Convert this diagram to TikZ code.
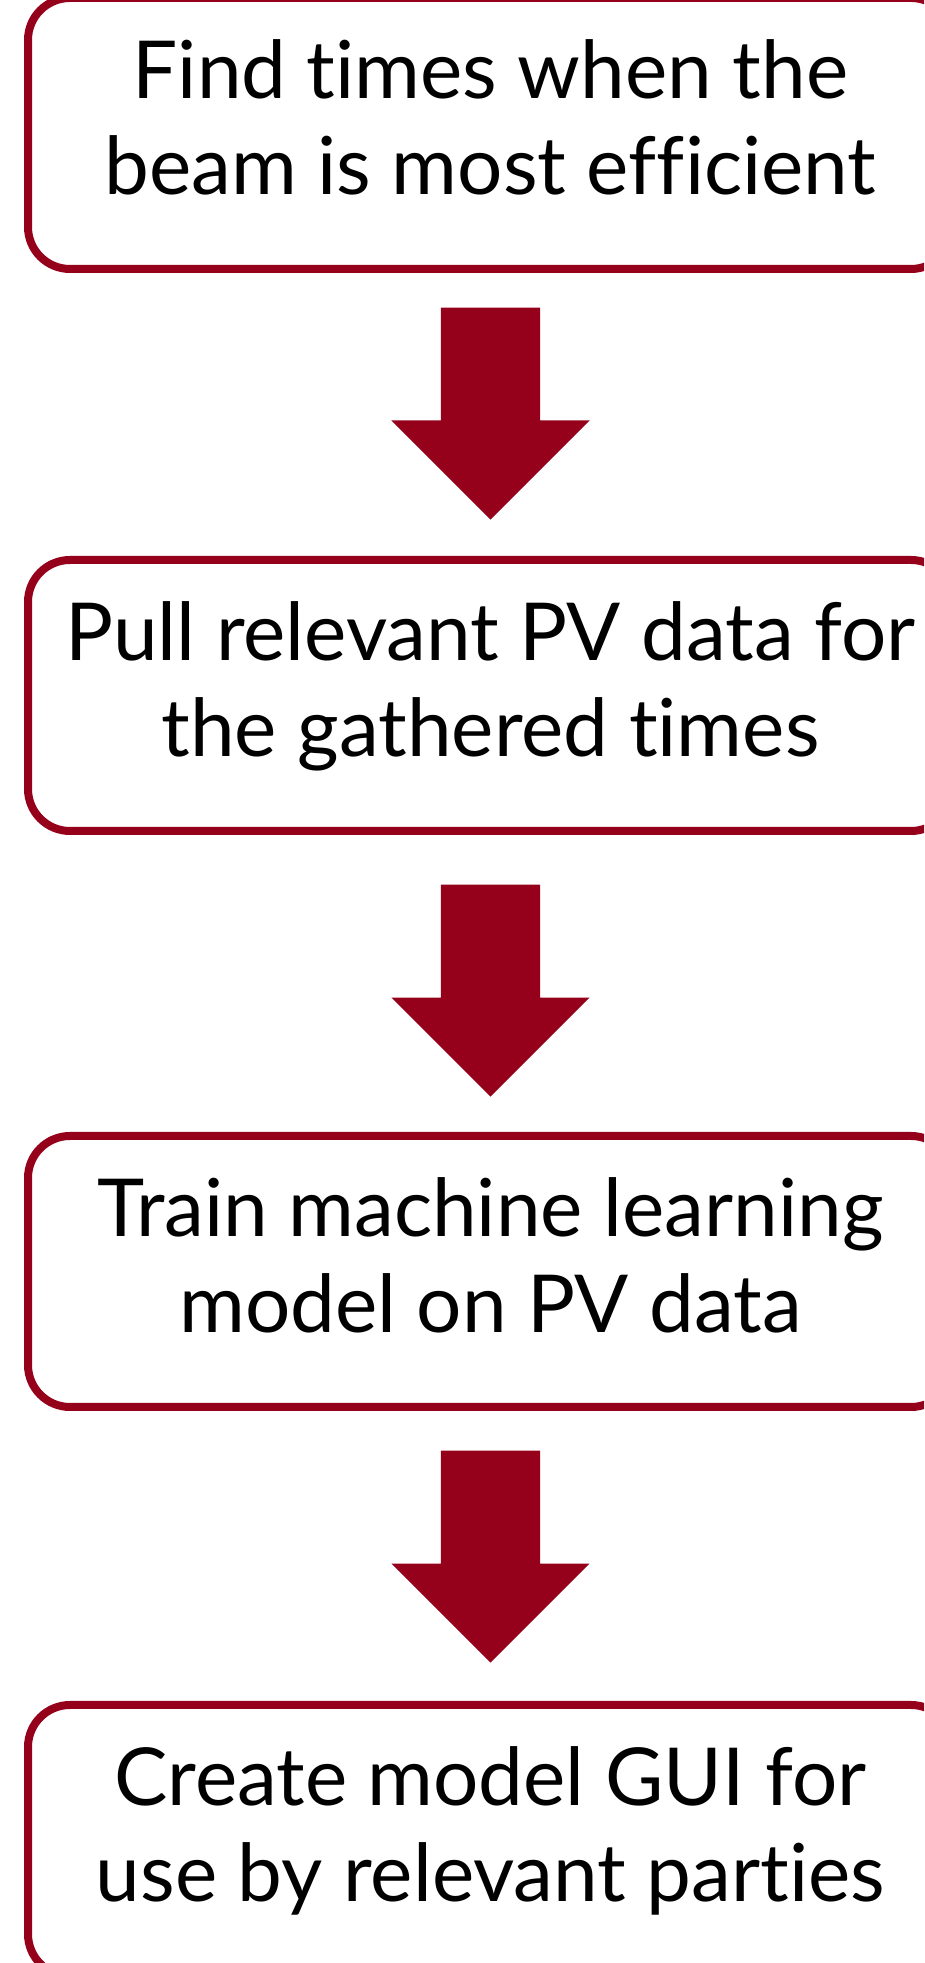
\documentclass[tikz,border=0pt]{standalone}
\usepackage{fontspec}
\setmainfont{Lato}[Ligatures=NoCommon, Contextuals=NoAlternate]
\usetikzlibrary{positioning,calc,shapes.arrows}
\definecolor{beamred}{RGB}{149,0,26}

\begin{document}
\begin{tikzpicture}[x=1pt, y=1pt,
    task box/.style={draw=beamred, line width=8pt, rounded corners=42pt,
        minimum width=925pt, minimum height=271pt, inner sep=0pt,
        text width=900pt, align=flush center, text height=0pt, text depth=69pt,
        font=\fontsize{80}{96}\selectfont},
    flow arrow/.style={single arrow, fill=beamred, draw=none, rotate=-90,
        anchor=tip, minimum height=212pt, minimum width=198pt,
        single arrow head extend=49.5pt, inner xsep=0pt, inner ysep=49.5pt}]

    \useasboundingbox (0,0) rectangle (924,1963);
    \clip (0,0) rectangle (924,1963);

    % Steps
    \node[task box] (find) at (490.5,1829.5) {Find times when the\\beam is most efficient};
    \node[task box] (pull) [below=283pt of find] {Pull relevant PV data for\\the gathered times};
    \node[task box] (train) [below=297pt of pull] {Train machine learning\\model on PV data};
    \node[task box] (gui) [below=290pt of train] {Create model GUI for\\use by relevant parties};

    % Arrows between the steps (tip just above the next step)
    \node[flow arrow] (findpull) at ($(pull.north)+(0,36)$) {};
    \node[flow arrow] (pulltrain) at ($(train.north)+(0,35)$) {};
    \node[flow arrow] (traingui) at ($(gui.north)+(0,38)$) {};

\end{tikzpicture}
\end{document}
